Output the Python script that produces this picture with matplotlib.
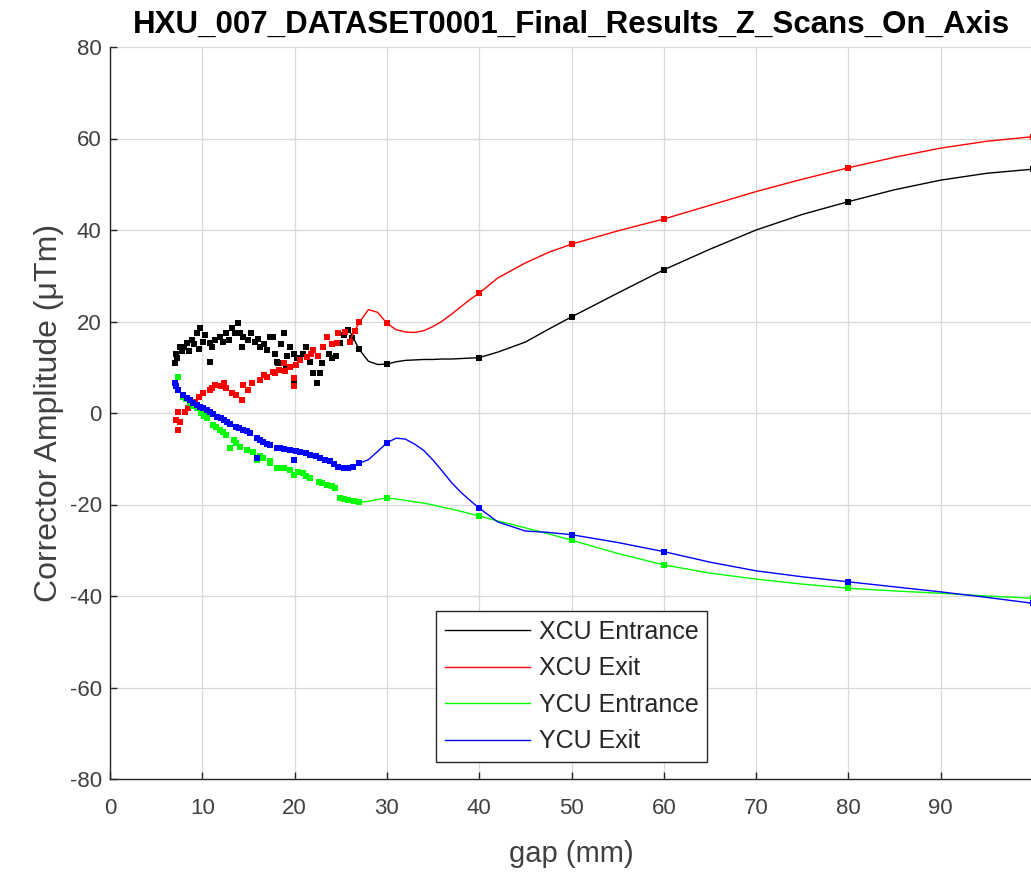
import matplotlib
matplotlib.use("Agg")
import matplotlib.pyplot as plt

plt.rcParams['font.family'] = ['Liberation Sans', 'DejaVu Sans']
plt.rcParams['axes.unicode_minus'] = False

# scattered scan points, gap below ~27 mm
black_scan_x = [7.0, 7.2, 7.3, 7.6, 7.8, 8.0, 8.3, 8.6, 8.9, 9.1, 9.4, 9.6, 9.8, 10.1, 10.3, 10.8, 10.8, 11.1,
                11.4, 11.9, 12.2, 12.6, 12.9, 13.2, 13.5, 13.9, 14.1, 14.3, 14.4, 15.0, 15.3, 15.7, 16.0, 16.3,
                16.7, 17.0, 17.3, 17.7, 17.9, 18.1, 18.2, 18.5, 18.8, 19.1, 19.2, 19.5, 19.9, 19.9, 20.3, 20.9,
                21.2, 21.7, 22.0, 22.4, 22.8, 23.0, 23.7, 24.0, 24.5, 24.9, 25.3, 25.8, 26.2]
black_scan_y = [10.9, 13.0, 12.0, 14.5, 13.5, 14.5, 15.2, 13.5, 16.0, 15.0, 17.4, 14.0, 18.5, 15.6, 17.0, 11.2, 15.2, 14.5,
                16.0, 16.7, 15.5, 17.4, 16.0, 18.5, 17.5, 19.6, 17.4, 14.5, 16.7, 16.0, 17.5, 15.6, 16.2, 14.5,
                15.0, 13.8, 16.7, 16.7, 13.0, 11.2, 10.9, 15.0, 17.4, 10.1, 12.5, 14.5, 13.0, 7.2, 12.0, 13.0,
                14.5, 11.2, 8.7, 6.5, 8.7, 11.0, 13.0, 12.0, 12.5, 15.2, 17.0, 18.1, 16.5]

red_scan_x = [7.2, 7.4, 7.4, 7.6, 8.1, 8.4, 8.7, 9.2, 9.6, 10.1, 10.8, 11.0, 11.4, 12.0, 12.3, 12.6, 13.2, 13.7,
              14.3, 14.4, 15.0, 15.4, 16.3, 16.7, 17.0, 17.7, 17.9, 18.3, 18.8, 19.0, 19.5, 19.9, 19.9, 20.2,
              20.6, 21.3, 21.8, 22.0, 22.5, 23.1, 23.5, 24.0, 24.6, 24.7, 25.5, 26.0, 26.5]
red_scan_y = [-1.5, -3.7, 0.3, -2.0, 0.3, 1.0, 1.7, 2.5, 3.6, 4.3, 5.0, 5.5, 6.1, 6.0, 6.5, 5.4, 4.3, 3.9,
              2.8, 6.1, 5.0, 6.5, 7.2, 8.2, 7.9, 9.0, 8.7, 9.5, 10.9, 9.2, 10.1, 7.6, 5.8, 10.5,
              11.6, 12.3, 12.8, 13.8, 12.5, 14.5, 16.7, 15.0, 15.2, 17.4, 17.8, 15.6, 18.0]

green_scan_x = [7.2, 7.4, 7.9, 8.2, 8.7, 9.0, 9.4, 9.9, 10.2, 10.5, 11.2, 11.5, 11.9, 12.2, 12.6, 13.0, 13.4, 13.7,
                14.1, 14.8, 15.5, 15.9, 16.2, 16.6, 17.3, 17.3, 18.1, 18.4, 18.8, 19.5, 19.9, 20.4, 20.9, 21.2,
                21.7, 22.6, 23.0, 23.5, 24.0, 24.4, 24.9, 25.3, 25.8, 26.4]
green_scan_y = [5.8, 7.9, 3.6, 3.0, 2.1, 1.5, 1.0, -0.1, -0.7, -1.2, -2.6, -3.0, -3.7, -4.2, -4.8, -7.7, -5.9, -6.5,
                -7.4, -8.1, -8.5, -10.3, -9.5, -9.9, -11.0, -10.6, -12.1, -12.1, -12.0, -12.5, -13.6, -13.0, -13.2, -13.8,
                -14.3, -15.0, -15.3, -15.7, -16.0, -16.5, -18.6, -18.8, -19.0, -19.3]

blue_scan_x = [7.0, 7.2, 7.4, 7.9, 8.3, 8.7, 9.0, 9.4, 9.8, 10.1, 10.5, 10.8, 11.2, 11.6, 12.0, 12.3, 12.7, 13.0,
               13.7, 14.0, 14.4, 14.8, 15.2, 15.9, 15.9, 16.2, 16.6, 17.0, 17.3, 18.1, 18.4, 18.8, 19.5, 19.9,
               20.2, 20.6, 21.2, 21.7, 22.3, 22.8, 23.3, 23.8, 24.3, 24.7, 25.3, 25.8, 26.3]
blue_scan_y = [6.5, 5.8, 5.0, 3.9, 3.3, 2.8, 2.2, 1.7, 1.3, 1.0, 0.6, 0.3, -0.3, -0.8, -1.2, -1.5, -1.9, -2.3,
               -3.0, -3.3, -3.7, -4.0, -4.4, -5.5, -9.9, -5.8, -6.3, -6.8, -7.0, -7.7, -7.7, -7.9, -8.1, -10.3,
               -8.3, -8.5, -8.8, -9.2, -9.5, -9.9, -10.3, -10.6, -11.2, -11.7, -12.0, -12.1, -11.8]

# measured gaps above the scan and the smooth fitted curves
key_x = [27, 30, 40, 50, 60, 80, 100]
black_key = [13.9, 10.7, 12.1, 21.0, 31.3, 46.2, 53.3]
red_key = [19.8, 19.6, 26.2, 36.9, 42.4, 53.6, 60.4]
green_key = [-19.5, -18.6, -22.5, -27.8, -33.2, -38.3, -40.5]
blue_key = [-11.0, -6.5, -20.8, -26.6, -30.3, -36.9, -41.6]

curve_x = [26, 27, 28, 29, 30, 31, 32, 33, 34, 35, 36, 37, 38, 39, 40, 42, 45, 47.5, 50,
           55, 60, 65, 70, 75, 80, 85, 90, 95, 100]
black_curve = [17.8, 13.9, 11.3, 10.6, 10.7, 11.2, 11.5, 11.6, 11.7, 11.7, 11.8, 11.8, 11.9, 12.0, 12.1, 13.3, 15.5, 18.3, 21.0,
               26.2, 31.3, 35.8, 40.0, 43.4, 46.2, 48.8, 50.9, 52.4, 53.3]
red_curve = [16.0, 19.8, 22.6, 22.0, 19.6, 18.2, 17.7, 17.6, 18.0, 18.9, 20.1, 21.6, 23.2, 24.8, 26.2, 29.5, 32.8, 35.1, 36.9,
             39.8, 42.4, 45.4, 48.4, 51.1, 53.6, 55.9, 57.9, 59.4, 60.4]
green_curve = [-19.0, -19.5, -19.3, -18.9, -18.6, -18.8, -19.1, -19.4, -19.7, -20.1, -20.6, -21.0, -21.5, -22.0, -22.5, -23.6, -25.1, -26.4, -27.8,
               -30.7, -33.2, -35.0, -36.3, -37.4, -38.3, -38.9, -39.4, -40.0, -40.5]
blue_curve = [-12.0, -11.0, -10.2, -8.4, -6.5, -5.5, -5.7, -6.8, -8.2, -10.3, -12.7, -15.2, -17.3, -19.1, -20.8, -23.8, -25.8, -26.1, -26.6,
              -28.3, -30.3, -32.6, -34.5, -35.8, -36.9, -38.0, -39.1, -40.3, -41.6]

labels = ['XCU Entrance', 'XCU Exit', 'YCU Entrance', 'YCU Exit']
colors = ['k', 'r', (0, 1, 0), 'b']

fig = plt.figure(figsize=(10.31, 8.73), dpi=100)
ax = fig.add_axes([110 / 1031, 94 / 873, 923 / 1031, 732 / 873])

series = [
    (black_scan_x, black_scan_y, black_key, black_curve),
    (red_scan_x, red_scan_y, red_key, red_curve),
    (green_scan_x, green_scan_y, green_key, green_curve),
    (blue_scan_x, blue_scan_y, blue_key, blue_curve),
]
for (sx, sy, ky, cy), lab, c in zip(series, labels, colors):
    ax.plot(sx, sy, 's', ms=5, color=c, mew=0)
    ax.plot(curve_x, cy, '-', lw=1.0, color=c, label=lab)
    ax.plot(key_x, ky, 's', ms=4, color=c, mew=0)

ax.set_xlim(0, 100)
ax.set_ylim(-80, 80)
ax.set_xticks(range(0, 100, 10))
ax.set_yticks(range(-80, 81, 20))
ax.grid(True, color='#d9d9d9', lw=0.9)
ax.set_axisbelow(True)
for s in ['top', 'right']:
    ax.spines[s].set_visible(False)
for s in ['left', 'bottom']:
    ax.spines[s].set_color('#262626')
    ax.spines[s].set_linewidth(1.0)
ax.tick_params(direction='in', length=5, width=1, colors='#262626', labelsize=16, labelcolor='#404040')
ax.tick_params(axis='x', pad=14)
ax.tick_params(axis='y', pad=6)

ax.set_xlabel('gap (mm)', fontsize=21, color='#404040', labelpad=15)
ax.set_ylabel('Corrector Amplitude (\u03bcTm)', fontsize=23, color='#404040', labelpad=4)
ax.set_title('HXU_007_DATASET0001_Final_Results_Z_Scans_On_Axis', fontsize=22.5, fontweight='bold', pad=10)

leg = ax.legend(loc='lower left', bbox_to_anchor=(0.353, 0.023), borderaxespad=0, fontsize=18,
                handlelength=3.4, handletextpad=0.36, frameon=True, fancybox=False, edgecolor='#262626',
                framealpha=1, labelspacing=0.5, borderpad=0.35)
leg.get_frame().set_linewidth(1.0)
for t in leg.get_texts():
    t.set_color('#262626')

fig.savefig('out.png', dpi=100)
